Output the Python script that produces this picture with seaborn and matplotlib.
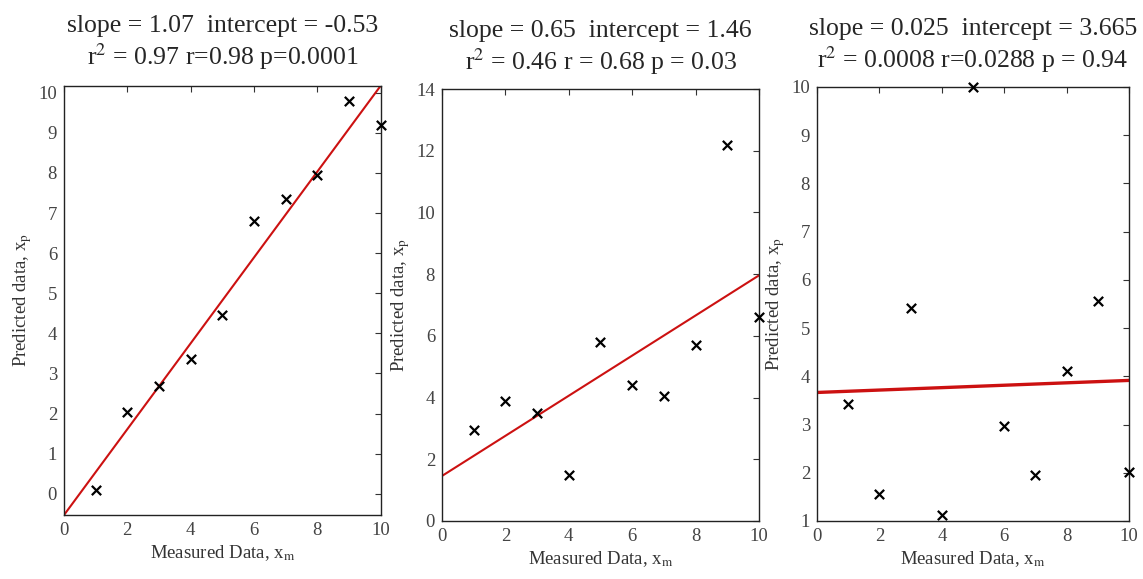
"""Three measured-vs-predicted scatter panels with linear fit lines."""

import numpy as np
import pandas as pd
import matplotlib
matplotlib.use("Agg")
import matplotlib.pyplot as plt
import seaborn as sns

measured = [1, 2, 3, 4, 5, 6, 7, 8, 9, 10]
predicted_a = [0.1, 2.05, 2.7, 3.35, 4.45, 6.8, 7.35, 7.95, 9.8, 9.2]
predicted_b = [2.95, 3.9, 3.5, 1.5, 5.8, 4.4, 4.05, 5.7, 12.2, 6.6]
predicted_c = [3.42, 1.55, 5.42, 1.12, 10.0, 2.97, 1.95, 4.1, 5.57, 2.02]

slopes = [1.07, 0.65, 0.025]
intercepts = [-0.53, 1.46, 3.665]
titles = [
    "slope = 1.07  intercept = -0.53\nr$^2$ = 0.97 r=0.98 p=0.0001",
    "slope = 0.65  intercept = 1.46\nr$^2$ = 0.46 r = 0.68 p = 0.03",
    "slope = 0.025  intercept = 3.665\nr$^2$ = 0.0008 r=0.0288 p = 0.94",
]
ylims = [(-0.53, 10.17), (0, 14), (1, 10)]
yticks = [range(0, 11), range(0, 15, 2), range(1, 11)]

sns.set_style("white")
plt.rcParams["font.family"] = ["Liberation Serif", "DejaVu Serif"]
plt.rcParams["mathtext.fontset"] = "stix"

fig = plt.figure(figsize=(11.43, 5.79), dpi=100)
positions = [
    [0.056, 0.1105, 0.2769, 0.741],
    [0.3867, 0.1002, 0.2773, 0.746],
    [0.7148, 0.1002, 0.273, 0.7496],
]

for i, pred in enumerate([predicted_a, predicted_b, predicted_c]):
    ax = fig.add_axes(positions[i])
    df = pd.DataFrame({"x": measured, "y": pred})
    xs = np.array([0, 10])
    fit = pd.DataFrame({"x": xs, "y": slopes[i] * xs + intercepts[i]})
    sns.lineplot(data=fit, x="x", y="y", ax=ax, color="#cc1111",
                 linewidth=2.4 if i == 2 else 1.5)
    sns.scatterplot(data=df, x="x", y="y", ax=ax, marker="x", color="black",
                    s=45, linewidth=1.6, zorder=3, clip_on=False)
    ax.set_xlim(0, 10)
    ax.set_ylim(*ylims[i])
    ax.set_xticks(range(0, 11, 2))
    ax.set_yticks(list(yticks[i]))
    ax.tick_params(direction="in", top=True, right=True, length=4, pad=5,
                   labelsize=13.5, labelcolor="#444444", color="#333333")
    for sp in ax.spines.values():
        sp.set_color("#222222")
        sp.set_linewidth(1.0)
    ax.set_xlabel("Measured Data, x$_\\mathrm{m}$", fontsize=13.5, color="#333333", labelpad=3)
    ax.set_ylabel("Predicted data, x$_\\mathrm{p}$", fontsize=13.5, color="#333333", labelpad=3)
    ax.set_title(titles[i], fontsize=18.5, linespacing=1.18, pad=15.5 - 2 * (i > 0))

fig.savefig("out.png", dpi=100)
